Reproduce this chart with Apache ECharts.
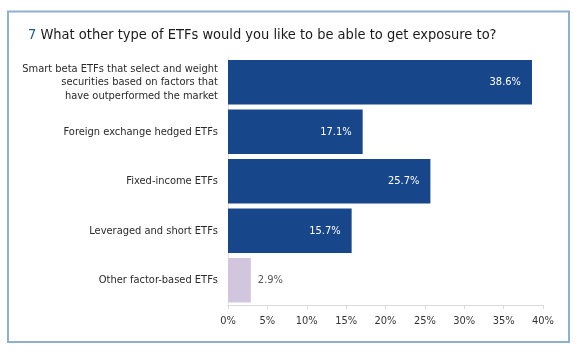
<!DOCTYPE html>
<html><head><meta charset="utf-8">
<script src="https://cdn.jsdelivr.net/npm/echarts@6/dist/echarts.min.js"></script>
<style>html,body{margin:0;padding:0;background:#fff}#c{width:580px;height:358px}</style>
</head><body><div id="c"></div>
<script>
const categories = [
  "Smart beta ETFs that select and weight\nsecurities based on factors that\nhave outperformed the market",
  "Foreign exchange hedged ETFs",
  "Fixed-income ETFs",
  "Leveraged and short ETFs",
  "Other factor-based ETFs"
];
const values = [38.6, 17.1, 25.7, 15.7, 2.9];
const tickLabels = ["0%","5%","10%","15%","20%","25%","30%","35%","40%"];
const titleNumber = "7";
const titleText = "What other type of ETFs would you like to be able to get exposure to?";

const FONT = "'DejaVu Sans Condensed','Liberation Sans Narrow',sans-serif";
const chart = echarts.init(document.getElementById('c'), null, {renderer:'canvas'});
const dark = '#17468b', light = '#d2c6df';
chart.setOption({
  animation:false,
  graphic:[{type:'rect', shape:{x:8,y:11.5,width:561,height:330.5}, style:{fill:'none', stroke:'#8fb0cf', lineWidth:2}, silent:true}],
  title:{
    text:'{n|'+titleNumber+'} '+titleText, left:23, top:23,
    textStyle:{fontFamily:FONT, fontSize:14.5, fontWeight:'normal', color:'#1a1a1a',
      rich:{n:{fontFamily:FONT, fontSize:14.5, color:'#1f5a92'}}}
  },
  grid:{left:228, right:37, top:57.5, bottom:53, containLabel:false, outerBoundsMode:'none'},
  xAxis:{type:'value', min:0, max:40, interval:5,
    axisLine:{show:true, lineStyle:{color:'#d9d9d9'}},
    axisTick:{show:true, length:4, lineStyle:{color:'#d9d9d9'}},
    splitLine:{show:false},
    axisLabel:{margin:11, fontFamily:FONT, fontSize:11, color:'#333',
      formatter:(v)=>tickLabels[Math.round(v/5)]}
  },
  yAxis:{type:'category', inverse:true, data:categories,
    axisLine:{show:true, lineStyle:{color:'#e3e3e3'}},
    axisTick:{show:false},
    axisLabel:{margin:10, fontFamily:FONT, fontSize:11, color:'#2a2a2a', lineHeight:13.5, align:'right'}
  },
  series:[{type:'bar', barCategoryGap:'10%',
    data:values.map((v,i)=>({value:v,
      itemStyle:{color: i===4?light:dark},
      label:{show:true, position: i===4?'right':'insideRight', distance: i===4?7:11,
        color: i===4?'#555':'#fff'}
    })),
    label:{fontFamily:FONT, fontSize:11, formatter:(p)=>p.value.toFixed(1)+'%'}
  }]
});
</script></body></html>
